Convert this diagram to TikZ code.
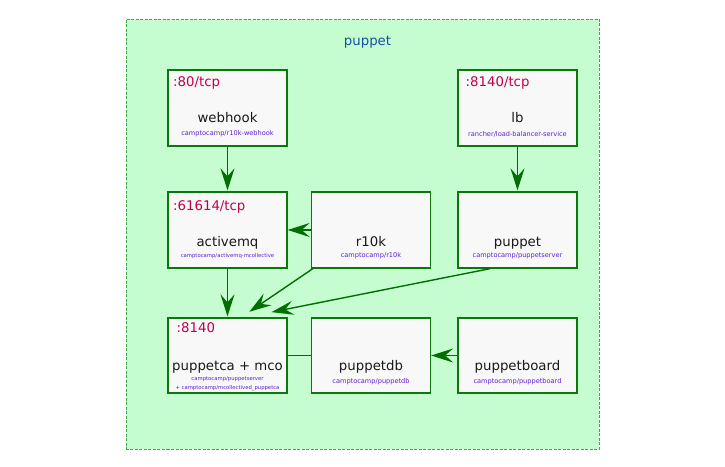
\documentclass[tikz,border=0pt]{standalone}
\usepackage{fontspec}
\setmainfont{DejaVu Sans}
\usepackage{tikz}
\usetikzlibrary{arrows.meta}
\definecolor{clusterfill}{RGB}{198,253,208}
\definecolor{clusterline}{RGB}{70,165,70}
\definecolor{boxline}{RGB}{10,120,10}
\definecolor{boxfill}{RGB}{248,248,248}
\definecolor{edgegreen}{RGB}{0,110,0}
\definecolor{portred}{RGB}{190,0,80}
\definecolor{titleblue}{RGB}{20,80,160}
\definecolor{imgpurple}{RGB}{90,30,210}

\begin{document}
\begin{tikzpicture}[x=1bp,y=-1bp,
  cluster/.style={draw=clusterline,fill=clusterfill,dash pattern=on 3bp off 1.5bp,line width=0.9bp,minimum width=473bp,minimum height=430bp,inner sep=0pt},
  svc/.style={draw=boxline,fill=boxfill,line width=1.3bp,minimum width=119bp,minimum height=76bp,inner sep=0pt},
  svcport/.style={anchor=base west,inner sep=0pt,text=portred,font=\fontsize{13.3bp}{16bp}\selectfont},
  svcname/.style={anchor=base,inner sep=0pt,text=black!90,font=\fontsize{13.3bp}{16bp}\selectfont},
  svcimg/.style={anchor=base,inner sep=0pt,text=imgpurple,font=\fontsize{6.6bp}{8bp}\selectfont},
  smallimg/.style={svcimg,font=\fontsize{5.3bp}{6.5bp}\selectfont},
  flow/.style={draw=edgegreen,line width=1.4bp,-{Stealth[length=22bp,width=14bp,inset=8bp]},shorten >=1bp},
  link/.style={draw=edgegreen,line width=1.4bp}]
\useasboundingbox (0,0) rectangle (725,467);
\node[cluster] (cluster) at (362.5,234) {};
\node[anchor=base,inner sep=0pt,text=titleblue,font=\fontsize{13.3bp}{16bp}\selectfont] (title) at (367.5,46) {puppet};

\node[svc] (webhook) at (227.5,108) {};
\node[svcport] (webhookport) at (173,87) {:80/tcp};
\node[svcname] (webhookname) at (227.5,123) {webhook};
\node[svcimg] (webhookimg) at (227.5,136) {camptocamp/r10k-webhook};

\node[svc] (lb) at (517.5,108) {};
\node[svcport] (lbport) at (465.5,87) {:8140/tcp};
\node[svcname] (lbname) at (517.5,123) {lb};
\node[svcimg] (lbimg) at (517.5,136.5) {rancher/load-balancer-service};

\node[svc] (activemq) at (227.5,230) {};
\node[svcport] (activemqport) at (173,210.5) {:61614/tcp};
\node[svcname] (activemqname) at (227.5,247) {activemq};
\node[smallimg] (activemqimg) at (227.5,258) {camptocamp/activemq-mcollective};

\node[svc] (r10k) at (371,230) {};
\node[svcname] (r10kname) at (371,247) {r10k};
\node[svcimg] (r10kimg) at (371,258) {camptocamp/r10k};

\node[svc] (puppet) at (517.5,230) {};
\node[svcname] (puppetname) at (517.5,246.5) {puppet};
\node[svcimg] (puppetimg) at (517.5,257.5) {camptocamp/puppetserver};

\node[svc,minimum height=75bp] (puppetca) at (227.5,355.5) {};
\node[svcport] (puppetcaport) at (176.5,332.5) {:8140};
\node[svcname] (puppetcaname) at (227.5,370) {puppetca + mco};
\node[smallimg] (puppetcaimg) at (227.5,380) {camptocamp/puppetserver};
\node[smallimg] (puppetcaimgb) at (227.5,389) {+ camptocamp/mcollectived\_puppetca};

\node[svc,minimum height=75bp] (puppetdb) at (371,355.5) {};
\node[svcname] (puppetdbname) at (371,370.5) {puppetdb};
\node[svcimg] (puppetdbimg) at (371,383.5) {camptocamp/puppetdb};

\node[svc,minimum height=75bp] (puppetboard) at (517.5,355.5) {};
\node[svcname] (puppetboardname) at (517.5,370.5) {puppetboard};
\node[svcimg] (puppetboardimg) at (517.5,383.5) {camptocamp/puppetboard};

\draw[flow] (webhook) -- (activemq);
\draw[flow] (lb) -- (puppet);
\draw[flow,shorten >=0pt] (r10k) -- (activemq);
\draw[flow] (activemq) -- (puppetca);
\draw[flow] ([xshift=2bp]r10k.south west) -- ([xshift=21bp,yshift=5bp]puppetca.north);
\draw[flow] ([xshift=-27.5bp]puppet.south) -- ([xshift=43bp,yshift=5bp]puppetca.north);
\draw[link] (puppetca) -- (puppetdb);
\draw[flow,shorten >=0pt] (puppetboard) -- (puppetdb);
\end{tikzpicture}
\end{document}
